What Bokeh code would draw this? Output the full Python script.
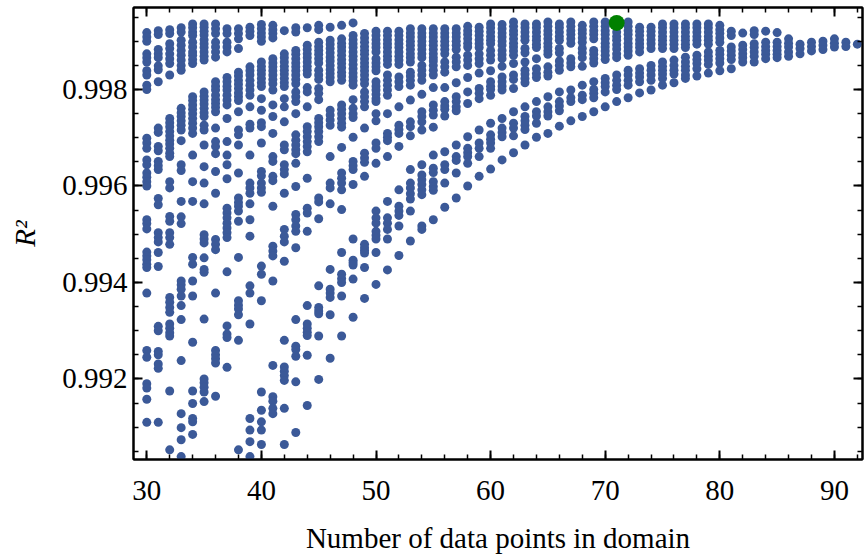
from bokeh.plotting import figure
from bokeh.models import (Range1d, FixedTicker, LinearAxis, PrintfTickFormatter,
                          ColumnDataSource, CustomLabelingPolicy)
from bokeh.embed import file_html
from bokeh.resources import INLINE

# ---- data: R^2 values for each number of data points in domain ----
x30 = [0.99918, 0.99909, 0.99900, 0.99874, 0.99866, 0.99857, 0.99839, 0.99830, 0.99809, 0.99800, 0.99699, 0.99689, 0.99678, 0.99654, 0.99644, 0.99627, 0.99618, 0.99609, 0.99600, 0.99530, 0.99522, 0.99511, 0.99463, 0.99455, 0.99447, 0.99438, 0.99431, 0.99378, 0.99259, 0.99245, 0.99190, 0.99181, 0.99158, 0.99110]
x31 = [0.99922, 0.99914, 0.99883, 0.99874, 0.99866, 0.99849, 0.99841, 0.99816, 0.99720, 0.99711, 0.99682, 0.99673, 0.99651, 0.99642, 0.99634, 0.99574, 0.99561, 0.99503, 0.99493, 0.99484, 0.99462, 0.99433, 0.99309, 0.99300, 0.99257, 0.99250, 0.99231, 0.99222, 0.99110]
x32 = [0.99924, 0.99916, 0.99895, 0.99885, 0.99874, 0.99864, 0.99854, 0.99830, 0.99740, 0.99731, 0.99723, 0.99713, 0.99704, 0.99695, 0.99687, 0.99678, 0.99668, 0.99661, 0.99609, 0.99596, 0.99537, 0.99527, 0.99503, 0.99493, 0.99479, 0.99369, 0.99359, 0.99348, 0.99338, 0.99314, 0.99305, 0.99296, 0.99289, 0.99175, 0.99053]
x33 = [0.99928, 0.99919, 0.99902, 0.99892, 0.99881, 0.99871, 0.99861, 0.99850, 0.99840, 0.99761, 0.99752, 0.99744, 0.99735, 0.99726, 0.99716, 0.99694, 0.99644, 0.99632, 0.99568, 0.99536, 0.99522, 0.99403, 0.99395, 0.99386, 0.99372, 0.99352, 0.99323, 0.99238, 0.99128, 0.99099, 0.99074, 0.99039]
x34 = [0.99936, 0.99928, 0.99919, 0.99912, 0.99898, 0.99888, 0.99878, 0.99871, 0.99862, 0.99854, 0.99785, 0.99777, 0.99768, 0.99759, 0.99750, 0.99740, 0.99730, 0.99720, 0.99709, 0.99664, 0.99609, 0.99568, 0.99452, 0.99438, 0.99403, 0.99372, 0.99276, 0.99175, 0.99149, 0.99118, 0.99111, 0.99085]
x35 = [0.99936, 0.99929, 0.99921, 0.99913, 0.99903, 0.99895, 0.99887, 0.99878, 0.99869, 0.99861, 0.99795, 0.99786, 0.99778, 0.99770, 0.99761, 0.99752, 0.99744, 0.99726, 0.99716, 0.99685, 0.99640, 0.99606, 0.99563, 0.99499, 0.99490, 0.99482, 0.99451, 0.99427, 0.99421, 0.99324, 0.99200, 0.99192, 0.99183, 0.99173, 0.99153]
x36 = [0.99936, 0.99926, 0.99916, 0.99898, 0.99888, 0.99878, 0.99867, 0.99816, 0.99807, 0.99799, 0.99788, 0.99779, 0.99771, 0.99763, 0.99754, 0.99720, 0.99692, 0.99682, 0.99667, 0.99630, 0.99585, 0.99489, 0.99479, 0.99468, 0.99378, 0.99259, 0.99250, 0.99242, 0.99233, 0.99164]
x37 = [0.99926, 0.99916, 0.99898, 0.99888, 0.99878, 0.99825, 0.99816, 0.99807, 0.99799, 0.99788, 0.99778, 0.99768, 0.99740, 0.99692, 0.99664, 0.99644, 0.99615, 0.99554, 0.99544, 0.99534, 0.99523, 0.99513, 0.99503, 0.99493, 0.99422, 0.99310, 0.99293, 0.99286, 0.99224]
x38 = [0.99926, 0.99916, 0.99905, 0.99885, 0.99836, 0.99828, 0.99819, 0.99811, 0.99802, 0.99793, 0.99785, 0.99777, 0.99754, 0.99716, 0.99706, 0.99685, 0.99627, 0.99575, 0.99566, 0.99558, 0.99548, 0.99527, 0.99452, 0.99362, 0.99353, 0.99345, 0.99333, 0.99280, 0.99053]
x39 = [0.99929, 0.99921, 0.99912, 0.99847, 0.99839, 0.99830, 0.99819, 0.99809, 0.99799, 0.99788, 0.99764, 0.99728, 0.99720, 0.99664, 0.99606, 0.99596, 0.99585, 0.99563, 0.99530, 0.99496, 0.99393, 0.99378, 0.99314, 0.99118, 0.99094, 0.99070, 0.99039]
x40 = [0.99935, 0.99926, 0.99917, 0.99909, 0.99900, 0.99857, 0.99848, 0.99840, 0.99832, 0.99823, 0.99814, 0.99806, 0.99781, 0.99757, 0.99731, 0.99723, 0.99689, 0.99630, 0.99621, 0.99606, 0.99596, 0.99587, 0.99434, 0.99417, 0.99362, 0.99173, 0.99135, 0.99111, 0.99094, 0.99064]
x41 = [0.99933, 0.99924, 0.99916, 0.99907, 0.99864, 0.99855, 0.99847, 0.99839, 0.99830, 0.99821, 0.99812, 0.99799, 0.99768, 0.99744, 0.99709, 0.99661, 0.99651, 0.99620, 0.99611, 0.99558, 0.99475, 0.99465, 0.99455, 0.99403, 0.99228, 0.99163, 0.99154, 0.99139, 0.99128]
x42 = [0.99922, 0.99874, 0.99866, 0.99857, 0.99848, 0.99840, 0.99832, 0.99823, 0.99814, 0.99806, 0.99781, 0.99764, 0.99733, 0.99685, 0.99675, 0.99644, 0.99634, 0.99625, 0.99585, 0.99510, 0.99496, 0.99484, 0.99444, 0.99280, 0.99225, 0.99216, 0.99207, 0.99197, 0.99139, 0.99064]
x43 = [0.99928, 0.99919, 0.99881, 0.99873, 0.99864, 0.99855, 0.99847, 0.99839, 0.99830, 0.99821, 0.99812, 0.99795, 0.99785, 0.99775, 0.99750, 0.99706, 0.99695, 0.99685, 0.99675, 0.99667, 0.99647, 0.99599, 0.99541, 0.99530, 0.99517, 0.99506, 0.99472, 0.99323, 0.99268, 0.99261, 0.99247, 0.99194, 0.99089]
x44 = [0.99928, 0.99892, 0.99883, 0.99874, 0.99866, 0.99857, 0.99848, 0.99840, 0.99832, 0.99804, 0.99795, 0.99764, 0.99723, 0.99713, 0.99702, 0.99692, 0.99682, 0.99671, 0.99616, 0.99554, 0.99544, 0.99506, 0.99352, 0.99314, 0.99305, 0.99297, 0.99290, 0.99249, 0.99145]
x45 = [0.99933, 0.99924, 0.99898, 0.99889, 0.99881, 0.99873, 0.99864, 0.99855, 0.99840, 0.99830, 0.99821, 0.99802, 0.99792, 0.99779, 0.99740, 0.99731, 0.99723, 0.99713, 0.99702, 0.99692, 0.99575, 0.99567, 0.99532, 0.99393, 0.99348, 0.99341, 0.99335, 0.99289, 0.99199]
x46 = [0.99929, 0.99902, 0.99894, 0.99885, 0.99876, 0.99867, 0.99859, 0.99850, 0.99841, 0.99833, 0.99825, 0.99816, 0.99757, 0.99747, 0.99737, 0.99726, 0.99661, 0.99606, 0.99596, 0.99563, 0.99427, 0.99386, 0.99378, 0.99369, 0.99333, 0.99243]
x47 = [0.99933, 0.99905, 0.99896, 0.99888, 0.99880, 0.99871, 0.99862, 0.99854, 0.99845, 0.99836, 0.99828, 0.99819, 0.99768, 0.99759, 0.99750, 0.99740, 0.99730, 0.99722, 0.99680, 0.99627, 0.99616, 0.99606, 0.99592, 0.99551, 0.99462, 0.99417, 0.99408, 0.99400, 0.99372, 0.99289]
x48 = [0.99938, 0.99912, 0.99903, 0.99895, 0.99887, 0.99878, 0.99869, 0.99861, 0.99852, 0.99843, 0.99834, 0.99826, 0.99818, 0.99809, 0.99779, 0.99761, 0.99750, 0.99742, 0.99701, 0.99651, 0.99642, 0.99634, 0.99603, 0.99490, 0.99446, 0.99441, 0.99436, 0.99407, 0.99328]
x49 = [0.99916, 0.99907, 0.99898, 0.99889, 0.99881, 0.99873, 0.99864, 0.99855, 0.99847, 0.99839, 0.99830, 0.99821, 0.99812, 0.99795, 0.99785, 0.99775, 0.99764, 0.99720, 0.99668, 0.99658, 0.99649, 0.99620, 0.99479, 0.99472, 0.99466, 0.99461, 0.99431, 0.99367]
x50 = [0.99921, 0.99912, 0.99903, 0.99895, 0.99887, 0.99878, 0.99864, 0.99855, 0.99847, 0.99839, 0.99816, 0.99807, 0.99799, 0.99790, 0.99781, 0.99775, 0.99750, 0.99735, 0.99689, 0.99678, 0.99647, 0.99548, 0.99534, 0.99523, 0.99506, 0.99498, 0.99490, 0.99462, 0.99396]
x51 = [0.99921, 0.99912, 0.99903, 0.99895, 0.99887, 0.99878, 0.99869, 0.99861, 0.99852, 0.99830, 0.99819, 0.99809, 0.99799, 0.99788, 0.99750, 0.99709, 0.99701, 0.99694, 0.99661, 0.99568, 0.99534, 0.99523, 0.99510, 0.99490, 0.99426]
x52 = [0.99921, 0.99912, 0.99903, 0.99895, 0.99887, 0.99878, 0.99869, 0.99861, 0.99852, 0.99826, 0.99816, 0.99806, 0.99764, 0.99726, 0.99717, 0.99709, 0.99682, 0.99592, 0.99558, 0.99548, 0.99539, 0.99517, 0.99456]
x53 = [0.99926, 0.99917, 0.99909, 0.99900, 0.99892, 0.99883, 0.99874, 0.99866, 0.99857, 0.99836, 0.99828, 0.99819, 0.99809, 0.99778, 0.99733, 0.99723, 0.99704, 0.99634, 0.99606, 0.99596, 0.99584, 0.99573, 0.99548, 0.99486]
x54 = [0.99926, 0.99917, 0.99909, 0.99900, 0.99892, 0.99883, 0.99874, 0.99866, 0.99850, 0.99840, 0.99830, 0.99819, 0.99790, 0.99754, 0.99744, 0.99733, 0.99716, 0.99644, 0.99623, 0.99613, 0.99603, 0.99592, 0.99582, 0.99517, 0.99510]
x55 = [0.99926, 0.99917, 0.99909, 0.99900, 0.99892, 0.99883, 0.99874, 0.99866, 0.99859, 0.99850, 0.99840, 0.99830, 0.99804, 0.99768, 0.99757, 0.99747, 0.99722, 0.99664, 0.99637, 0.99628, 0.99609, 0.99599, 0.99591, 0.99530]
x56 = [0.99926, 0.99917, 0.99909, 0.99900, 0.99892, 0.99883, 0.99874, 0.99857, 0.99847, 0.99836, 0.99804, 0.99775, 0.99766, 0.99759, 0.99745, 0.99671, 0.99644, 0.99634, 0.99606, 0.99556]
x57 = [0.99926, 0.99917, 0.99909, 0.99900, 0.99892, 0.99883, 0.99867, 0.99857, 0.99847, 0.99814, 0.99785, 0.99775, 0.99764, 0.99756, 0.99685, 0.99661, 0.99653, 0.99627, 0.99575]
x58 = [0.99931, 0.99922, 0.99914, 0.99905, 0.99896, 0.99888, 0.99871, 0.99861, 0.99850, 0.99825, 0.99795, 0.99771, 0.99702, 0.99678, 0.99669, 0.99661, 0.99647, 0.99600]
x59 = [0.99929, 0.99921, 0.99912, 0.99903, 0.99895, 0.99887, 0.99874, 0.99864, 0.99854, 0.99834, 0.99802, 0.99792, 0.99781, 0.99716, 0.99689, 0.99678, 0.99661, 0.99620]
x60 = [0.99936, 0.99928, 0.99919, 0.99910, 0.99902, 0.99895, 0.99881, 0.99871, 0.99861, 0.99839, 0.99816, 0.99807, 0.99800, 0.99788, 0.99730, 0.99706, 0.99697, 0.99689, 0.99678, 0.99635]
x61 = [0.99935, 0.99926, 0.99917, 0.99909, 0.99900, 0.99892, 0.99881, 0.99872, 0.99864, 0.99848, 0.99826, 0.99816, 0.99807, 0.99799, 0.99740, 0.99720, 0.99711, 0.99702, 0.99654]
x62 = [0.99940, 0.99931, 0.99922, 0.99914, 0.99905, 0.99896, 0.99888, 0.99880, 0.99871, 0.99854, 0.99830, 0.99821, 0.99802, 0.99754, 0.99730, 0.99720, 0.99704, 0.99669]
x63 = [0.99936, 0.99928, 0.99919, 0.99910, 0.99902, 0.99885, 0.99876, 0.99857, 0.99840, 0.99832, 0.99823, 0.99814, 0.99764, 0.99744, 0.99735, 0.99726, 0.99717, 0.99685]
x64 = [0.99936, 0.99928, 0.99919, 0.99910, 0.99902, 0.99894, 0.99887, 0.99864, 0.99843, 0.99833, 0.99825, 0.99775, 0.99754, 0.99745, 0.99730, 0.99701]
x65 = [0.99940, 0.99931, 0.99922, 0.99914, 0.99905, 0.99896, 0.99888, 0.99880, 0.99873, 0.99847, 0.99836, 0.99828, 0.99785, 0.99764, 0.99754, 0.99745, 0.99709]
x66 = [0.99936, 0.99928, 0.99919, 0.99910, 0.99902, 0.99885, 0.99876, 0.99859, 0.99850, 0.99840, 0.99795, 0.99775, 0.99766, 0.99756, 0.99724]
x67 = [0.99940, 0.99931, 0.99922, 0.99914, 0.99905, 0.99896, 0.99864, 0.99855, 0.99847, 0.99799, 0.99783, 0.99775, 0.99735]
x68 = [0.99933, 0.99924, 0.99916, 0.99907, 0.99898, 0.99885, 0.99876, 0.99866, 0.99848, 0.99809, 0.99788, 0.99779, 0.99744]
x69 = [0.99940, 0.99931, 0.99922, 0.99914, 0.99905, 0.99881, 0.99873, 0.99864, 0.99855, 0.99816, 0.99800, 0.99792, 0.99783, 0.99754]
x70 = [0.99940, 0.99931, 0.99922, 0.99914, 0.99905, 0.99896, 0.99888, 0.99880, 0.99871, 0.99862, 0.99823, 0.99814, 0.99806, 0.99795, 0.99764]
x71 = [0.99919, 0.99910, 0.99902, 0.99893, 0.99884, 0.99874, 0.99866, 0.99830, 0.99819, 0.99809, 0.99800, 0.99775]
x72 = [0.99940, 0.99931, 0.99922, 0.99914, 0.99905, 0.99896, 0.99888, 0.99880, 0.99871, 0.99840, 0.99830, 0.99819, 0.99809, 0.99783]
x73 = [0.99929, 0.99921, 0.99912, 0.99903, 0.99895, 0.99887, 0.99878, 0.99843, 0.99834, 0.99826, 0.99816, 0.99793]
x74 = [0.99929, 0.99921, 0.99912, 0.99903, 0.99895, 0.99885, 0.99850, 0.99840, 0.99830, 0.99819, 0.99799]
x75 = [0.99936, 0.99928, 0.99919, 0.99910, 0.99902, 0.99894, 0.99885, 0.99857, 0.99848, 0.99840, 0.99832, 0.99823, 0.99809]
x76 = [0.99936, 0.99928, 0.99919, 0.99910, 0.99902, 0.99894, 0.99885, 0.99861, 0.99850, 0.99840, 0.99832, 0.99814]
x77 = [0.99936, 0.99928, 0.99919, 0.99910, 0.99902, 0.99894, 0.99887, 0.99867, 0.99857, 0.99848, 0.99840, 0.99830, 0.99823]
x78 = [0.99936, 0.99928, 0.99919, 0.99910, 0.99902, 0.99894, 0.99871, 0.99862, 0.99854, 0.99843, 0.99828]
x79 = [0.99936, 0.99928, 0.99919, 0.99910, 0.99902, 0.99894, 0.99878, 0.99869, 0.99861, 0.99852, 0.99834]
x80 = [0.99933, 0.99924, 0.99916, 0.99907, 0.99898, 0.99881, 0.99873, 0.99864, 0.99855, 0.99839]
x81 = [0.99921, 0.99912, 0.99888, 0.99880, 0.99871, 0.99862, 0.99843]
x82 = [0.99917, 0.99892, 0.99883, 0.99874, 0.99866, 0.99857]
x83 = [0.99922, 0.99914, 0.99895, 0.99887, 0.99878, 0.99869, 0.99857]
x84 = [0.99921, 0.99898, 0.99889, 0.99881, 0.99873, 0.99864]
x85 = [0.99918, 0.99898, 0.99889, 0.99881, 0.99873, 0.99866]
x86 = [0.99905, 0.99896, 0.99888, 0.99878, 0.99869]
x87 = [0.99894, 0.99885, 0.99874]
x88 = [0.99898, 0.99889, 0.99880]
x89 = [0.99900, 0.99892, 0.99883]
x90 = [0.99905, 0.99896, 0.99888]
x91 = [0.99898, 0.99889]
x92 = [0.99894]

best_n = [71]
best_r2 = [0.99938]

columns = {
    30: x30, 31: x31, 32: x32, 33: x33, 34: x34, 35: x35, 36: x36, 37: x37, 38: x38, 39: x39,
    40: x40, 41: x41, 42: x42, 43: x43, 44: x44, 45: x45, 46: x46, 47: x47, 48: x48, 49: x49,
    50: x50, 51: x51, 52: x52, 53: x53, 54: x54, 55: x55, 56: x56, 57: x57, 58: x58, 59: x59,
    60: x60, 61: x61, 62: x62, 63: x63, 64: x64, 65: x65, 66: x66, 67: x67, 68: x68, 69: x69,
    70: x70, 71: x71, 72: x72, 73: x73, 74: x74, 75: x75, 76: x76, 77: x77, 78: x78, 79: x79,
    80: x80, 81: x81, 82: x82, 83: x83, 84: x84, 85: x85, 86: x86, 87: x87, 88: x88, 89: x89,
    90: x90, 91: x91, 92: x92,
}

xs, ys = [], []
for n, vals in columns.items():
    for v in vals:
        xs.append(n)
        ys.append(v)

FONT = "Liberation Serif"
BLUE = "#3B5998"
GREEN = "#008000"

p = figure(width=864, height=556, output_backend="svg", toolbar_location=None,
           x_range=Range1d(28.84, 92.45), y_range=Range1d(0.99033, 0.99970),
           min_border_left=133, min_border_right=2, min_border_top=7, min_border_bottom=95,
           x_axis_type=None, y_axis_type=None)
p.background_fill_color = "white"
p.border_fill_color = "white"
p.outline_line_color = "black"
p.outline_line_width = 2
p.xgrid.visible = False
p.ygrid.visible = False

xt = FixedTicker(ticks=[30, 40, 50, 60, 70, 80, 90], minor_ticks=list(range(28, 94, 2)))
yt = FixedTicker(ticks=[0.992, 0.994, 0.996, 0.998],
                 minor_ticks=[0.9900 + 0.0005 * i for i in range(20)])

def style(ax, labels=True):
    ax.axis_line_color = "black"
    ax.axis_line_width = 2
    ax.major_tick_line_color = "black"
    ax.major_tick_line_width = 2
    ax.minor_tick_line_color = "black"
    ax.minor_tick_line_width = 1.5
    ax.major_tick_in = 9
    ax.major_tick_out = 0
    ax.minor_tick_in = 5
    ax.minor_tick_out = 0
    if labels:
        ax.major_label_text_font = FONT
        ax.major_label_text_font_size = "29px"
        ax.major_label_text_color = "black"
        ax.axis_label_text_font = FONT
        ax.axis_label_text_font_size = "29px"
        ax.axis_label_text_color = "black"
    else:
        # frame ticks only: no labels drawn and no space reserved for them
        ax.major_label_policy = CustomLabelingPolicy(code="return new Set()")
        ax.major_label_text_font_size = "0px"
        ax.major_label_standoff = 0

xb = LinearAxis(ticker=xt, formatter=PrintfTickFormatter(format="%d"),
                axis_label="Number of data points in domain")
style(xb)
xb.major_label_standoff = 21
xb.axis_label_standoff = 19
xb.axis_label_text_font_style = "normal"
p.add_layout(xb, "below")

yl = LinearAxis(ticker=yt, formatter=PrintfTickFormatter(format="%.3f"), axis_label="R²")
style(yl)
yl.major_label_standoff = 6
yl.axis_label_standoff = 18
yl.axis_label_text_font_style = "italic"
p.add_layout(yl, "left")

xa = LinearAxis(ticker=xt)
style(xa, labels=False)
p.add_layout(xa, "above")
yr = LinearAxis(ticker=yt)
style(yr, labels=False)
p.add_layout(yr, "right")

src = ColumnDataSource(data=dict(n=xs, r2=ys))
p.scatter("n", "r2", source=src, size=9, fill_color=BLUE, line_color=None)
p.scatter(best_n, best_r2, size=16, fill_color=GREEN, line_color=None)

open("out.html", "w").write(file_html(p, INLINE))
